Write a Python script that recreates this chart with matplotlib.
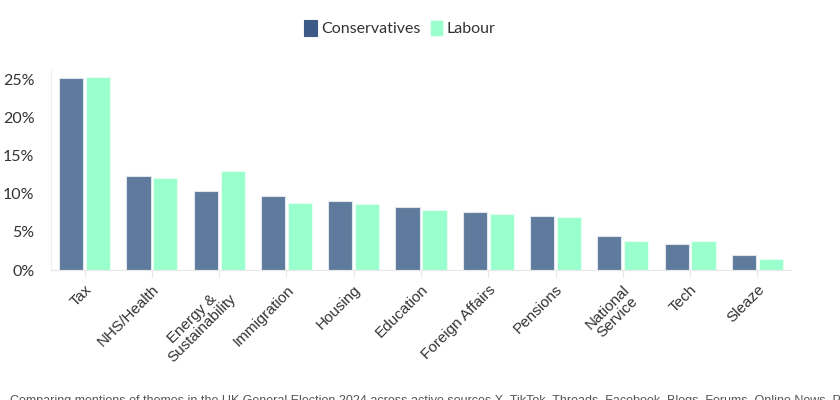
import numpy as np
import matplotlib
matplotlib.use("Agg")
import matplotlib.pyplot as plt
from matplotlib.ticker import FuncFormatter

plt.rcParams['font.family'] = ['Lato', 'DejaVu Sans']

themes = ['Tax', 'NHS/Health', 'Energy &\nSustainability', 'Immigration', 'Housing',
          'Education', 'Foreign Affairs', 'Pensions', 'National\nService', 'Tech', 'Sleaze']
conservatives = [25.1, 12.3, 10.3, 9.7, 9.0, 8.2, 7.6, 7.1, 4.4, 3.4, 1.9]
labour = [25.3, 12.0, 13.0, 8.8, 8.6, 7.9, 7.4, 6.9, 3.8, 3.8, 1.5]

caption = ("Comparing mentions of themes in the UK General Election 2024 across active sources X, "
           "TikTok, Threads, Facebook, Blogs, Forums, Online News, Print")

fig = plt.figure(figsize=(8.4, 4.0), dpi=100)
ax = fig.add_axes([51 / 840, 1 - 270 / 400, 740 / 840, 200 / 400])

x = np.arange(len(themes))
w = 0.36
ax.bar(x - 0.2, conservatives, w, color='#5e7a9c', edgecolor='#dfe6ee', linewidth=0.8,
       label='Conservatives')
ax.bar(x + 0.2, labour, w, color='#99ffcc', edgecolor='#e6fff2', linewidth=0.8,
       label='Labour')

ax.set_xlim(-0.5, len(themes) - 0.5)
ax.set_ylim(0, 26.2)
ax.set_yticks([0, 5, 10, 15, 20, 25])
ax.yaxis.set_major_formatter(FuncFormatter(lambda v, p: f"{v:.0f}%"))
ax.set_xticks(x)
ax.set_xticklabels(themes, rotation=45, ha='right', rotation_mode='anchor',
                   fontsize=11, color='#333333', linespacing=0.95,
                   family=['Liberation Sans', 'DejaVu Sans'])
for lab in ax.get_xticklabels():
    lab.set_multialignment('center')
ax.tick_params(axis='x', length=5, color='#e8e8e8', pad=4)
ax.tick_params(axis='y', length=0, labelsize=11.5, colors='#333333', pad=12)

for s in ['top', 'right']:
    ax.spines[s].set_visible(False)
ax.spines['left'].set_color('#f0f0f0')
ax.spines['bottom'].set_color('#e8e8e8')

fig.legend(loc='upper center', bbox_to_anchor=(0.476, 0.985), ncol=2, frameon=False,
           fontsize=11.5, handlelength=0.8, handleheight=1.1, handletextpad=0.25,
           columnspacing=0.6, labelcolor='#333333')
leg = fig.legends[0]
leg.legend_handles[0].set_facecolor('#3b5a85')
leg.legend_handles[0].set_edgecolor('#3b5a85')

fig.text(10 / 840, -0.018, caption, fontsize=9, color='#555555', va='bottom', ha='left',
         family=['Liberation Sans', 'DejaVu Sans'])

fig.savefig('out.png', dpi=100)
